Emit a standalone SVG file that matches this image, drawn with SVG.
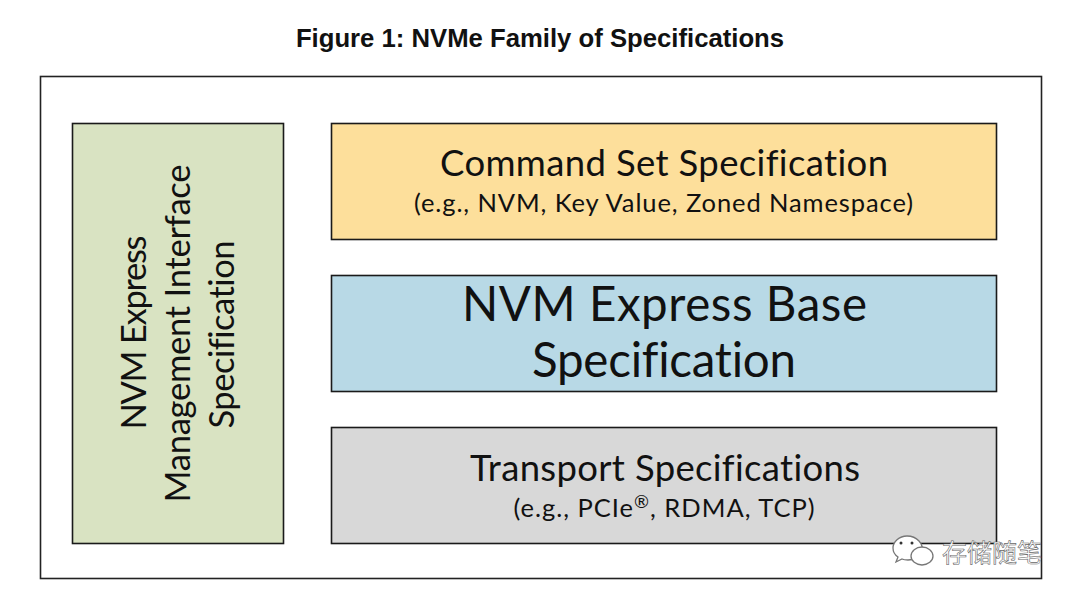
<svg xmlns="http://www.w3.org/2000/svg" width="1080" height="601" viewBox="0 0 1080 601">
<style>
text{font-family:"Lato","Liberation Sans",Arial,sans-serif;fill:#111;text-anchor:middle;font-variant-ligatures:none}
.b{stroke:#1a1a1a;stroke-width:1.600}
.wm{fill:#fff;stroke:#777;stroke-width:1.300}
</style>
<rect width="1080" height="601" fill="#fff"/>
<text x="540" y="47" font-size="25.700" font-weight="700" style="font-family:'Liberation Sans',Arial,sans-serif">Figure 1: NVMe Family of Specifications</text>
<rect id="frame" x="40.500" y="76.500" width="1001" height="502" fill="#fff" stroke="#222" stroke-width="1.600"/>
<g id="mgmt"><rect class="b" x="72.500" y="123.500" width="211" height="420" fill="#d9e3c2"/>
<g transform="translate(178 333.500) rotate(-90)"><text y="-32" font-size="34.500" x="1" textLength="194">NVM Express</text><text y="12" font-size="34.500" textLength="338">Management Interface</text><text y="56" font-size="34.500" x="-1" textLength="188">Specification</text></g></g>
<g id="command"><rect class="b" x="331.500" y="123.500" width="665" height="116" fill="#fddf9b"/>
<text x="664" y="175.500" font-size="36.500" textLength="448">Command Set Specification</text><text x="663.500" y="212" font-size="25.500" textLength="499">(e.g., NVM, Key Value, Zoned Namespace)</text></g>
<g id="base"><rect class="b" x="331.500" y="275.500" width="665" height="116" fill="#b8d9e6"/>
<text x="664.500" y="321" font-size="47.500" textLength="405">NVM Express Base</text><text x="664" y="377" font-size="47.500" textLength="264">Specification</text></g>
<g id="transport"><rect class="b" x="331.500" y="427.500" width="665" height="116" fill="#d8d8d8"/>
<text x="665" y="480.500" font-size="36.500" textLength="390">Transport Specifications</text><text x="664.500" y="517" font-size="25.500" letter-spacing="1">(e.g., PCIe<tspan font-size="18" dy="-9">®</tspan><tspan dy="9">, RDMA, TCP)</tspan></text></g>
<g id="watermark"><path class="wm" d="M907 536c-8 0-14 6-14 12 0 4 2 7 5 9l-2 5 6-3c2 1 4 1 6 1 6 0 12-3 14-8 2-8-5-16-15-16z"/><ellipse class="wm" cx="922" cy="556" rx="11" ry="9"/><circle cx="901" cy="543" r="1.500" fill="#333"/><circle cx="912" cy="543" r="1.500" fill="#333"/>
<text x="992" y="562" font-size="25" style="font-family:'Noto Sans CJK SC',sans-serif;fill:#fff;stroke:#666;stroke-width:.6">存储随笔</text></g>
</svg>
